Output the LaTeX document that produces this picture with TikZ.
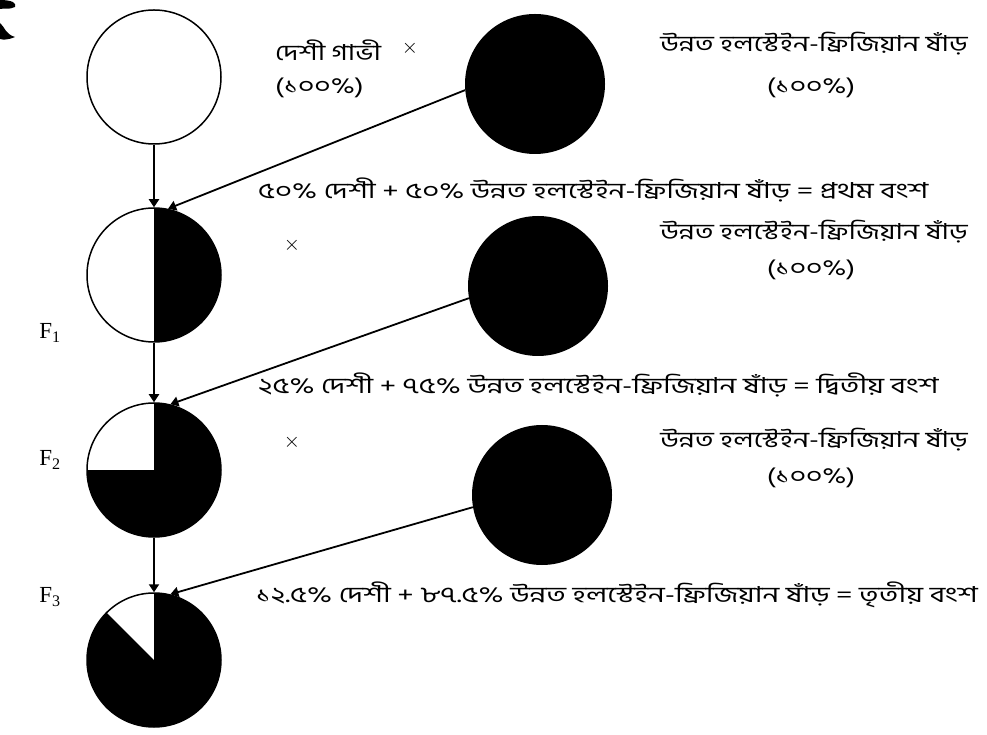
\documentclass[tikz,border=0pt]{standalone}
\usepackage{fontspec}
\setmainfont{Liberation Serif}
\newfontfamily\bnfont[Script=Bengali,FakeStretch=1.29]{Hind Siliguri}
\newfontfamily\bnwide[Script=Bengali,FakeStretch=1.34]{Hind Siliguri}
\usetikzlibrary{arrows.meta}
\tikzset{
  whitecirc/.style={circle,draw,line width=1.5pt,inner sep=0pt,minimum size=134pt},
  blackcirc/.style={circle,fill,inner sep=0pt,minimum size=140pt},
  arr/.style={-{Triangle[width=10pt,length=8pt]},line width=1.8pt},
  bn/.style={font=\bnfont\fontsize{22}{26}\selectfont,inner sep=0pt},
  bnline/.style={font=\bnwide\fontsize{22}{26}\selectfont,inner sep=0pt,anchor=west},
  cross/.style={font=\fontsize{20}{24}\selectfont,inner sep=0pt},
  flabel/.style={font=\fontsize{23}{26}\selectfont,inner sep=0pt}
}
\begin{document}
\begin{tikzpicture}[x=1pt,y=1pt]
\useasboundingbox (0,0) rectangle (987,734);
% corner marks
\fill (0,734) .. controls (12,734) and (17,731) .. (15,727) .. controls (9,724) and (3,726) .. (0,725) -- cycle;
\fill (0,711) .. controls (5,707) and (5,700) .. (15,697) .. controls (8,694) and (3,694) .. (0,695) -- cycle;
% circles
\node[whitecirc] (c0) at (154,657) {};
\node[whitecirc] (c1) at (154,459) {};
\node[whitecirc] (c2) at (154,264) {};
\node[whitecirc] (c3) at (154,74) {};
\fill (c1.center) -- ++(0,67) arc (90:-90:67) -- cycle;
\fill (c2.center) -- ++(0,67) arc (90:-180:67) -- cycle;
\fill (c3.center) -- ++(0,67) arc (90:-225:67) -- cycle;
\node[blackcirc] (b1) at (535,650) {};
\node[blackcirc] (b2) at (538,448) {};
\node[blackcirc] (b3) at (542,239) {};
% arrows
\draw[arr] (c0.south) -- (c1.north);
\draw[arr] (c1.south) -- (c2.north);
\draw[arr] (c2.south) -- (c3.north);
\draw[arr] (b1.185) -- (c1.78);
\draw[arr] (b2.190) -- (c2.76);
\draw[arr] (b3.190) -- (c3.76);
% labels
\node[bn,anchor=west] (t1) at (275,684) {দেশী গাভী};
\node[cross] (x1) at (410,686) {$\times$};
\node[bn,anchor=west] (p1) at (275,646) {(১০০\%)};
\node[bn] (h1) at (814,690) {উন্নত হলস্টেইন-ফ্রিজিয়ান ষাঁড়};
\node[bn] (q1) at (811,646) {(১০০\%)};
\node[bnline] (g1) at (258,544) {৫০\% দেশী + ৫০\% উন্নত হলস্টেইন-ফ্রিজিয়ান ষাঁড় = প্রথম বংশ};
\node[cross] (x2) at (292,489) {$\times$};
\node[bn] (h2) at (814,502) {উন্নত হলস্টেইন-ফ্রিজিয়ান ষাঁড়};
\node[bn] (q2) at (811,464) {(১০০\%)};
\node[bnline] (g2) at (258,349) {২৫\% দেশী + ৭৫\% উন্নত হলস্টেইন-ফ্রিজিয়ান ষাঁড় = দ্বিতীয় বংশ};
\node[cross] (x3) at (292,292) {$\times$};
\node[bn] (h3) at (814,294) {উন্নত হলস্টেইন-ফ্রিজিয়ান ষাঁড়};
\node[bn] (q3) at (811,256) {(১০০\%)};
\node[bnline] (g3) at (256,139) {১২.৫\% দেশী + ৮৭.৫\% উন্নত হলস্টেইন-ফ্রিজিয়ান ষাঁড় = তৃতীয় বংশ};
\node[flabel] (f1) at (50,401) {F\textsubscript{1}};
\node[flabel] (f2) at (50,274) {F\textsubscript{2}};
\node[flabel] (f3) at (50,137) {F\textsubscript{3}};
\end{tikzpicture}
\end{document}
